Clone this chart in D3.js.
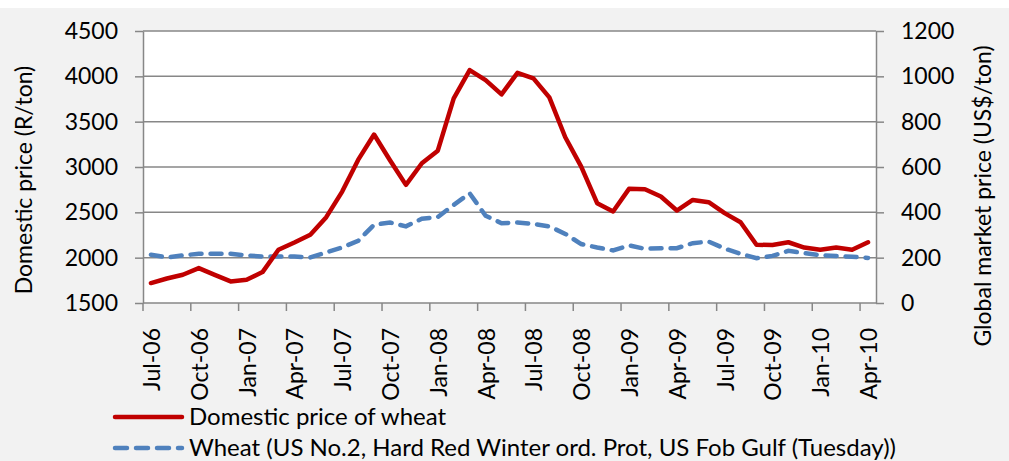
<!DOCTYPE html>
<html>
<head>
<meta charset="utf-8">
<script src="https://cdn.jsdelivr.net/npm/d3@7"></script>
<style>
  body { margin: 0; background: #fff; }
  text { font-family: Lato, "Open Sans", sans-serif; fill: #000; }
</style>
</head>
<body>
<div id="chart"></div>
<script>
// months Jul-06 .. Apr-10
var months = d3.timeMonth.range(new Date(2006, 6, 1), new Date(2010, 4, 1));
var fmt = d3.timeFormat('%b-%y');

// Domestic price of wheat, R/ton (left axis)
var domestic = [1720, 1770, 1812, 1885, 1810, 1738, 1757, 1841, 2087, 2167, 2252, 2447,
  2729, 3078, 3358, 3075, 2803, 3041, 3180, 3757, 4069, 3959, 3801, 4039,
  3977, 3768, 3328, 3004, 2601, 2509, 2759, 2755, 2674, 2520, 2637, 2612,
  2491, 2390, 2142, 2140, 2170, 2112, 2087, 2112, 2087, 2170];

// US HRW wheat, US$/ton (right axis)
var global = [213, 201, 210, 217, 217, 217, 210, 205, 205, 205, 201, 223,
  245, 274, 345, 355, 338, 372, 379, 433, 484, 385, 352, 355,
  349, 338, 305, 260, 245, 232, 254, 239, 242, 242, 264, 271,
  240, 217, 198, 208, 230, 220, 211, 207, 204, 199];

var leftTicks = [1500, 2000, 2500, 3000, 3500, 4000, 4500];
var rightTicks = [0, 200, 400, 600, 800, 1000, 1200];

var seriesNames = ['Domestic price of wheat',
  'Wheat (US No.2, Hard Red Winter ord. Prot, US Fob Gulf (Tuesday))'];

var W = 1009, H = 461;
var margin = { left: 143, right: 133, top: 31, bottom: 158 };
var width = W - margin.left - margin.right;
var height = H - margin.top - margin.bottom;
var axisColor = '#878787';
var fontSize = '23px';

var svg = d3.select('#chart').append('svg')
  .attr('width', W)
  .attr('height', H);

svg.append('rect')
  .attr('x', 0).attr('y', 8)
  .attr('width', W).attr('height', H - 8)
  .style('fill', '#f2f2f2');

var g = svg.append('g')
  .attr('transform', 'translate(' + margin.left + ',' + margin.top + ')');

g.append('rect')
  .attr('width', width)
  .attr('height', height)
  .style('fill', '#fff');

var x = d3.scaleBand()
  .domain(months)
  .range([0, width])
  .padding(0);

var yL = d3.scaleLinear().domain([1500, 4500]).range([height, 0]);
var yR = d3.scaleLinear().domain([0, 1200]).range([height, 0]);

// gridlines
g.selectAll('.grid').data(leftTicks.slice(1))
  .enter().append('line')
  .attr('class', 'grid')
  .attr('x1', 0).attr('x2', width)
  .attr('y1', function(d){ return yL(d); })
  .attr('y2', function(d){ return yL(d); })
  .style('stroke', axisColor)
  .style('stroke-width', 1.5);

// left axis
var yAxisL = d3.axisLeft(yL)
  .tickValues(leftTicks)
  .tickFormat(d3.format('d'))
  .tickSize(8)
  .tickSizeOuter(0)
  .tickPadding(17);

var gl = g.append('g').attr('class', 'y-axis').call(yAxisL);

// right axis
var yAxisR = d3.axisRight(yR)
  .tickValues(rightTicks)
  .tickFormat(d3.format('d'))
  .tickSize(8)
  .tickSizeOuter(0)
  .tickPadding(17);

var gr = g.append('g')
  .attr('class', 'y-axis-right')
  .attr('transform', 'translate(' + width + ',0)')
  .call(yAxisR);

[gl, gr].forEach(function(a){
  a.selectAll('path, line').style('stroke', axisColor).style('stroke-width', 1.5);
  a.selectAll('text').style('font-size', fontSize).attr('font-family', null);
});

// x axis
var labelMonths = months.filter(function(d, i){ return i % 3 === 0; });

g.append('line')
  .attr('x1', 0).attr('x2', width)
  .attr('y1', height).attr('y2', height)
  .style('stroke', axisColor)
  .style('stroke-width', 1.5);

g.selectAll('.xtick').data(labelMonths)
  .enter().append('line')
  .attr('class', 'xtick')
  .attr('x1', function(d){ return x(d); })
  .attr('x2', function(d){ return x(d); })
  .attr('y1', height).attr('y2', height + 8)
  .style('stroke', axisColor)
  .style('stroke-width', 1.5);

g.selectAll('.xlabel').data(labelMonths)
  .enter().append('text')
  .attr('class', 'xlabel')
  .attr('transform', function(d){
    return 'translate(' + (x(d) + x.bandwidth() / 2 + 1) + ',' + (height + 25) + ') rotate(-90)';
  })
  .attr('text-anchor', 'end')
  .attr('dy', '0.35em')
  .style('font-size', fontSize)
  .text(function(d){ return fmt(d); });

// axis titles
svg.append('text')
  .attr('transform', 'translate(24,180) rotate(-90)')
  .attr('text-anchor', 'middle')
  .attr('dy', '0.35em')
  .style('font-size', fontSize)
  .text('Domestic price (R/ton)');

svg.append('text')
  .attr('transform', 'translate(983,196) rotate(-90)')
  .attr('text-anchor', 'middle')
  .attr('dy', '0.35em')
  .style('font-size', fontSize)
  .text('Global market price (US$/ton)');

// lines
var cx = function(i){ return x(months[i]) + x.bandwidth() / 2; };

var lineL = d3.line()
  .x(function(d, i){ return cx(i); })
  .y(function(d){ return yL(d); });

var lineR = d3.line()
  .x(function(d, i){ return cx(i); })
  .y(function(d){ return yR(d); });

g.append('path')
  .datum(global)
  .attr('d', lineR)
  .style('fill', 'none')
  .style('stroke', '#4f81bd')
  .style('stroke-width', 4.5)
  .style('stroke-linecap', 'round')
  .style('stroke-dasharray', '11,9');

g.append('path')
  .datum(domestic)
  .attr('d', lineL)
  .style('fill', 'none')
  .style('stroke', '#c00000')
  .style('stroke-width', 4.5)
  .style('stroke-linejoin', 'round')
  .style('stroke-linecap', 'round');

// legend
var legend = svg.selectAll('.legend')
  .data(seriesNames)
  .enter().append('g')
  .attr('class', 'legend')
  .attr('transform', function(d, i){ return 'translate(0,' + (417 + i * 31) + ')'; });

legend.append('line')
  .attr('x1', 115).attr('x2', 182)
  .attr('y1', 0).attr('y2', 0)
  .style('stroke', function(d, i){ return i === 0 ? '#c00000' : '#4f81bd'; })
  .style('stroke-width', 4.5)
  .style('stroke-linecap', 'round')
  .style('stroke-dasharray', function(d, i){ return i === 0 ? null : '12,9'; });

legend.append('text')
  .attr('x', 189)
  .attr('dy', '0.35em')
  .style('font-size', '24px')
  .text(function(d){ return d; });
</script>
</body>
</html>
